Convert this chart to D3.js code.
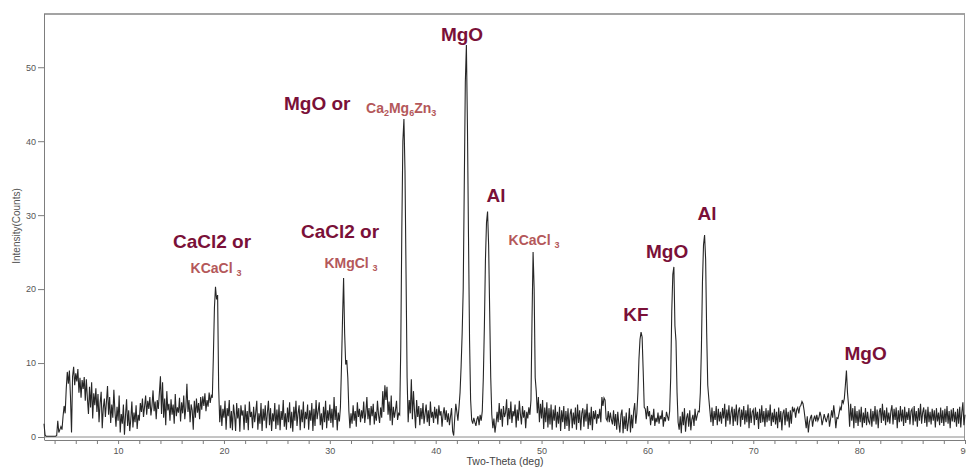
<!DOCTYPE html>
<html>
<head>
<meta charset="utf-8">
<script src="https://cdn.jsdelivr.net/npm/d3@7"></script>
<style>
  html, body { margin: 0; padding: 0; background: #fff; }
  svg { display: block; font-family: Arial, "Liberation Sans", sans-serif; }
  .tick text { fill: #555; font-size: 9px; }
  .tick line, .domain { stroke: #7d7d7d; }
  .peak-main { fill: #7a1038; font-weight: bold; font-size: 19px; }
  .peak-sub { fill: #b4585a; font-weight: bold; font-size: 14px; }
</style>
</head>
<body>
<div id="chart"></div>
<script>
// XRD scan: 2-theta from 3.0 deg, step 0.1 deg, one row per degree
var scanStart = 3.0, scanStep = 0.1
var intensity = [
  [1.8,0.3,0.1,0.1,0.1,0.1,0.1,0.1,0.1,0.1],   // 3
  [0.1,0.1,0.2,2.2,0.6,1.0,1.4,1.0,2.8,4.2],
  [3.2,6.5,8.8,7.2,9.0,5.5,0.6,8.2,9.5,7.0],   // 5
  [8.6,7.5,9.2,6.0,8.0,5.3,7.7,6.5,8.1,4.9],
  [7.8,5.2,3.1,6.8,4.0,7.4,2.5,5.9,4.3,6.6],
  [3.4,5.8,2.0,4.6,6.1,1.2,3.9,5.2,2.7,4.8],
  [6.9,3.0,5.4,1.9,4.4,2.6,6.4,3.5,1.4,4.1],
  [2.2,5.6,0.6,3.1,1.8,4.4,0.3,2.9,5.1,1.5],   // 10
  [3.6,0.8,2.4,4.8,1.3,3.3,2.0,4.3,1.1,3.0],
  [2.2,4.6,3.4,5.2,2.7,4.1,5.6,3.0,4.9,3.8],
  [5.4,2.9,4.2,6.3,3.5,4.8,2.4,5.0,3.8,6.0],
  [8.2,3.1,7.4,2.6,5.2,1.6,6.2,3.6,4.5,2.2],
  [5.1,3.0,4.4,1.8,5.8,2.8,4.0,3.3,5.3,2.1],   // 15
  [4.7,3.2,5.6,2.4,4.1,7.2,3.4,5.0,2.0,4.4],
  [3.6,1.0,4.9,2.6,5.2,3.3,4.6,2.4,5.4,3.7],
  [5.5,4.2,5.9,3.5,5.0,4.1,6.0,4.6,5.6,5.3],
  [11.0,17.5,20.3,18.6,19.2,6.6,2.0,4.3,1.5,3.8],
  [2.6,4.9,1.0,3.9,2.8,5.0,1.2,3.5,0.9,4.4],   // 20
  [3.0,0.8,4.6,2.5,3.9,0.7,4.3,2.9,3.6,1.0],
  [4.4,1.9,3.5,0.9,4.8,2.7,3.4,1.2,4.1,2.0],
  [3.3,4.9,1.0,3.2,1.8,4.6,0.8,3.8,2.2,4.3],
  [1.2,3.3,4.9,1.6,3.9,0.8,3.2,2.1,4.6,1.1],
  [3.7,1.6,4.4,0.9,3.5,2.3,5.0,1.4,3.2,1.0],   // 25
  [4.0,2.0,4.7,1.2,3.4,0.7,4.1,2.2,4.9,1.5],
  [3.2,4.3,0.9,3.7,2.0,4.8,1.2,3.4,2.4,4.4],
  [1.0,3.6,2.2,4.6,0.8,3.8,1.5,5.0,2.4,3.5],
  [4.7,1.6,3.2,1.0,4.1,2.0,4.9,1.2,3.6,2.2],
  [4.4,1.9,3.8,1.3,5.4,2.3,4.2,0.9,3.3,2.1],   // 30
  [4.0,9.5,16.0,21.5,14.0,9.8,10.4,8.0,3.5,1.2],
  [3.2,1.8,4.3,2.2,3.5,1.4,4.7,2.7,3.8,2.0],
  [3.6,2.5,4.8,1.9,3.3,5.4,2.4,3.9,1.6,4.2],
  [2.8,4.5,1.7,3.4,2.2,4.9,3.0,1.9,4.0,2.6],
  [6.2,3.4,7.0,5.0,6.8,3.0,4.8,2.2,5.6,1.6],   // 35
  [4.1,2.6,3.6,4.9,2.3,3.2,3.0,12.0,28.0,40.0],
  [43.0,36.0,22.0,8.0,2.0,5.0,3.2,7.8,2.4,6.2],
  [3.5,1.2,5.0,2.7,4.2,1.6,3.9,2.4,4.6,1.8],
  [3.2,4.4,2.0,3.6,1.5,4.8,2.6,3.4,1.9,4.1],
  [2.5,3.8,1.7,4.3,2.9,3.5,1.4,3.1,4.0,2.3],   // 40
  [3.6,2.0,3.2,1.6,2.8,3.9,0.8,0.2,2.6,4.5],
  [3.4,2.2,4.0,6.0,9.5,14.0,20.0,34.0,48.0,53.0],
  [42.0,27.0,13.0,5.0,2.3,1.8,2.6,2.0,1.5,2.4],
  [2.8,1.6,3.0,2.2,3.5,8.0,15.0,24.0,29.0,30.5],
  [26.0,17.0,8.0,3.0,1.2,2.5,0.6,1.8,3.4,2.0],   // 45
  [4.6,2.3,3.8,1.4,4.2,2.7,3.3,5.1,1.6,3.9],
  [2.4,4.8,1.9,3.5,2.8,4.4,1.3,3.7,2.2,4.9],
  [3.1,1.7,4.2,2.6,3.6,1.2,3.4,2.5,4.0,3.0],
  [5.0,16.0,25.0,20.0,8.0,6.2,3.2,5.4,2.0,4.5],
  [2.5,5.0,1.1,4.0,2.0,4.7,1.3,3.9,1.7,4.4],   // 50
  [1.0,3.7,2.2,4.3,1.3,3.4,1.8,4.1,0.8,3.6],
  [2.0,4.2,1.1,3.5,1.5,3.9,0.8,3.1,3.8,1.2],
  [3.3,1.7,4.0,1.0,4.4,1.9,3.6,0.9,3.2,3.9],
  [1.4,3.7,2.1,4.5,1.1,3.3,1.6,4.1,0.9,3.5],
  [2.4,3.6,1.8,3.1,2.5,3.8,2.0,5.4,4.2,5.3],   // 55
  [5.0,2.5,2.2,3.5,2.0,3.3,2.3,1.7,3.6,1.5],
  [3.1,1.0,3.4,1.8,0.6,3.0,3.7,0.5,2.8,1.1],
  [3.3,0.8,2.0,3.9,0.6,3.0,1.2,3.5,4.6,1.8],
  [3.2,6.0,10.5,13.2,14.2,13.5,9.0,4.0,3.8,2.4],
  [4.2,2.8,3.5,1.6,3.0,2.2,3.8,1.5,2.6,2.0],   // 60
  [3.3,1.8,2.9,2.4,3.6,1.4,2.7,2.1,3.4,2.8],
  [2.2,3.5,8.0,17.0,22.0,23.0,15.0,13.0,6.0,2.0],
  [1.0,2.8,0.5,3.4,1.6,3.9,0.7,2.6,3.2,1.4],
  [3.6,0.9,2.4,3.0,1.5,3.8,2.2,2.9,3.5,3.4],
  [6.0,12.0,21.0,26.0,27.3,24.0,14.0,7.0,5.2,3.6],   // 65
  [2.0,4.0,1.5,3.5,2.3,4.2,1.6,3.8,2.1,3.4],
  [1.8,3.9,2.5,4.5,1.4,3.7,2.2,4.3,1.7,3.3],
  [4.1,1.5,3.8,2.1,4.4,1.6,3.5,4.0,1.4,3.7],
  [2.3,4.2,1.7,3.6,2.0,4.4,1.2,3.9,1.9,3.4],
  [3.7,1.6,4.0,2.3,3.4,1.1,3.8,1.9,4.3,2.0],   // 70
  [3.5,1.4,3.9,2.0,3.6,2.2,4.4,1.5,3.3,2.0],
  [3.8,1.7,3.4,1.2,4.0,2.0,3.5,0.9,3.2,3.7],
  [1.6,3.9,2.1,3.4,1.3,3.6,1.8,4.1,3.5,3.8],
  [2.6,3.7,4.0,3.2,4.1,4.3,4.8,4.5,3.6,2.4],
  [1.2,2.8,0.6,2.0,2.6,3.0,1.4,2.4,2.9,2.1],   // 75
  [3.0,2.2,2.6,3.4,2.8,1.6,2.3,3.1,2.5,2.0],
  [2.7,3.2,1.4,2.4,3.6,2.6,4.3,3.0,1.2,2.6],
  [2.5,3.2,4.0,3.6,5.0,4.6,5.2,7.0,9.0,6.0],
  [4.3,1.4,4.5,2.2,3.9,1.2,4.2,1.9,3.5,1.5],
  [3.7,2.0,4.1,1.3,3.3,1.9,3.9,1.6,3.4,2.1],   // 80
  [1.8,3.8,1.4,3.5,2.1,4.2,1.7,3.7,1.2,3.4],
  [3.9,1.9,4.5,2.2,3.6,1.6,4.0,2.0,3.3,1.8],
  [3.5,4.3,1.7,3.8,2.3,4.0,1.2,3.6,2.0,4.2],
  [2.1,3.7,1.5,4.1,1.9,3.4,2.3,3.9,1.7,3.5],
  [3.8,1.6,4.2,2.1,3.5,1.4,3.9,2.2,4.5,1.8],   // 85
  [3.3,4.0,1.9,3.7,1.4,4.1,2.0,3.4,1.7,3.8],
  [2.2,3.6,1.3,3.9,2.1,3.3,1.6,4.0,1.9,3.6],
  [1.5,3.8,2.0,4.2,1.8,3.5,1.2,3.7,2.1,3.9],
  [2.0,3.4,1.4,3.8,1.8,4.1,1.3,3.3,4.7,1.6],
  [3.0]                                          // 90
]

var yTicks = [0, 10, 20, 30, 40, 50]
var xTicks = [4,6,8,10,12,14,16,18,20,22,24,26,28,30,32,34,36,38,40,42,44,46,48,50,
  52,54,56,58,60,62,64,66,68,70,72,74,76,78,80,82,84,86,88,90]
var xLabelTicks = [10, 20, 30, 40, 50, 60, 70, 80, 90]

// phase annotations, anchored in data units (2-theta, counts)
var peakLabels = [
  { parts: [["MgO"]], at: [42.49, 53.5], cls: "peak-main", anchor: "middle" },
  { parts: [["MgO or"]], at: [25.67, 44.2], cls: "peak-main", anchor: "start" },
  { parts: [["Ca"], ["2", 1], ["Mg"], ["6", 1], ["Zn"], ["3", 1]], at: [33.42, 43.8], cls: "peak-sub", anchor: "start" },
  { parts: [["CaCl2 or"]], at: [18.87, 25.6], cls: "peak-main", anchor: "middle" },
  { parts: [["KCaCl "], ["3", 1]], at: [19.25, 22.2], cls: "peak-sub", anchor: "middle" },
  { parts: [["CaCl2 or"]], at: [30.96, 26.9], cls: "peak-main", anchor: "middle" },
  { parts: [["KMgCl "], ["3", 1]], at: [32.0, 22.85], cls: "peak-sub", anchor: "middle" },
  { parts: [["Al"]], at: [45.7, 31.8], cls: "peak-main", anchor: "middle" },
  { parts: [["KCaCl "], ["3", 1]], at: [49.29, 25.95], cls: "peak-sub", anchor: "middle" },
  { parts: [["MgO"]], at: [61.86, 24.2], cls: "peak-main", anchor: "middle" },
  { parts: [["Al"]], at: [65.63, 29.3], cls: "peak-main", anchor: "middle" },
  { parts: [["KF"]], at: [58.92, 15.7], cls: "peak-main", anchor: "middle" },
  { parts: [["MgO"]], at: [80.61, 10.4], cls: "peak-main", anchor: "middle" }
]

var W = 966, H = 469
var margin = { top: 14, right: 1, bottom: 32, left: 44 }

var data = []
intensity.forEach(function(row, r) {
  row.forEach(function(v, i) {
    data.push({ tt: scanStart + r + i * scanStep, v: v })
  })
})

var x = d3.scaleLinear().domain([3, 90]).range([margin.left, W - margin.right])
var y = d3.scaleLinear().domain([0, 57.2]).range([437, margin.top])

var svg = d3.select("#chart").append("svg")
  .attr("width", W)
  .attr("height", H)

// frame: top and right border
svg.append("line")
  .attr("x1", x(3)).attr("x2", x(90))
  .attr("y1", y(57.2)).attr("y2", y(57.2))
  .attr("stroke", "#858585").attr("stroke-width", 1.5)
svg.append("line")
  .attr("x1", x(90) - 0.5).attr("x2", x(90) - 0.5)
  .attr("y1", y(57.2)).attr("y2", 440)
  .attr("stroke", "#9a9a9a")

// zero baseline
svg.append("line")
  .attr("x1", x(3)).attr("x2", x(90))
  .attr("y1", y(0)).attr("y2", y(0))
  .attr("stroke", "#8a8a8a")

var yAxis = svg.append("g")
  .attr("transform", "translate(" + margin.left + ",0)")
  .call(d3.axisLeft(y).tickValues(yTicks).tickSize(6).tickPadding(2).tickSizeOuter(0))
yAxis.select(".domain").attr("d", "M0.5," + y(57.2) + "V440")

var xAxis = svg.append("g")
  .attr("transform", "translate(0,440)")
  .call(d3.axisBottom(x).tickValues(xTicks).tickSize(4).tickPadding(4).tickSizeOuter(0)
    .tickFormat(function(d) { return xLabelTicks.indexOf(d) >= 0 ? d : "" }))

svg.selectAll(".tick text").attr("font-family", "Arial, 'Liberation Sans', sans-serif")

// axis titles
svg.append("text")
  .attr("x", 505).attr("y", 465)
  .attr("text-anchor", "middle")
  .attr("font-size", 10.5)
  .attr("fill", "#444")
  .text("Two-Theta (deg)")

svg.append("text")
  .attr("transform", "translate(20,226) rotate(-90)")
  .attr("text-anchor", "middle")
  .attr("font-size", 10)
  .attr("fill", "#555")
  .text("Intensity(Counts)")

// the scan
var line = d3.line()
  .x(function(d) { return x(d.tt) })
  .y(function(d) { return y(d.v) })

svg.append("path")
  .datum(data)
  .attr("d", line)
  .attr("fill", "none")
  .attr("stroke", "#262626")
  .attr("stroke-width", 1.1)
  .attr("stroke-linejoin", "miter")

// labels
var labels = svg.selectAll(".peak-label")
  .data(peakLabels)
  .enter().append("text")
  .attr("class", function(d) { return "peak-label " + d.cls })
  .attr("text-anchor", function(d) { return d.anchor })
  .attr("x", function(d) { return x(d.at[0]) })
  .attr("y", function(d) { return y(d.at[1]) })

labels.each(function(d) {
  var t = d3.select(this)
  var shifted = false
  d.parts.forEach(function(p) {
    var s = t.append("tspan").text(p[0])
    if (p[1]) {
      s.attr("font-size", "9px").attr("dy", shifted ? 0 : 3)
      shifted = true
    } else if (shifted) {
      s.attr("dy", -3)
      shifted = false
    }
  })
})
</script>
</body>
</html>
